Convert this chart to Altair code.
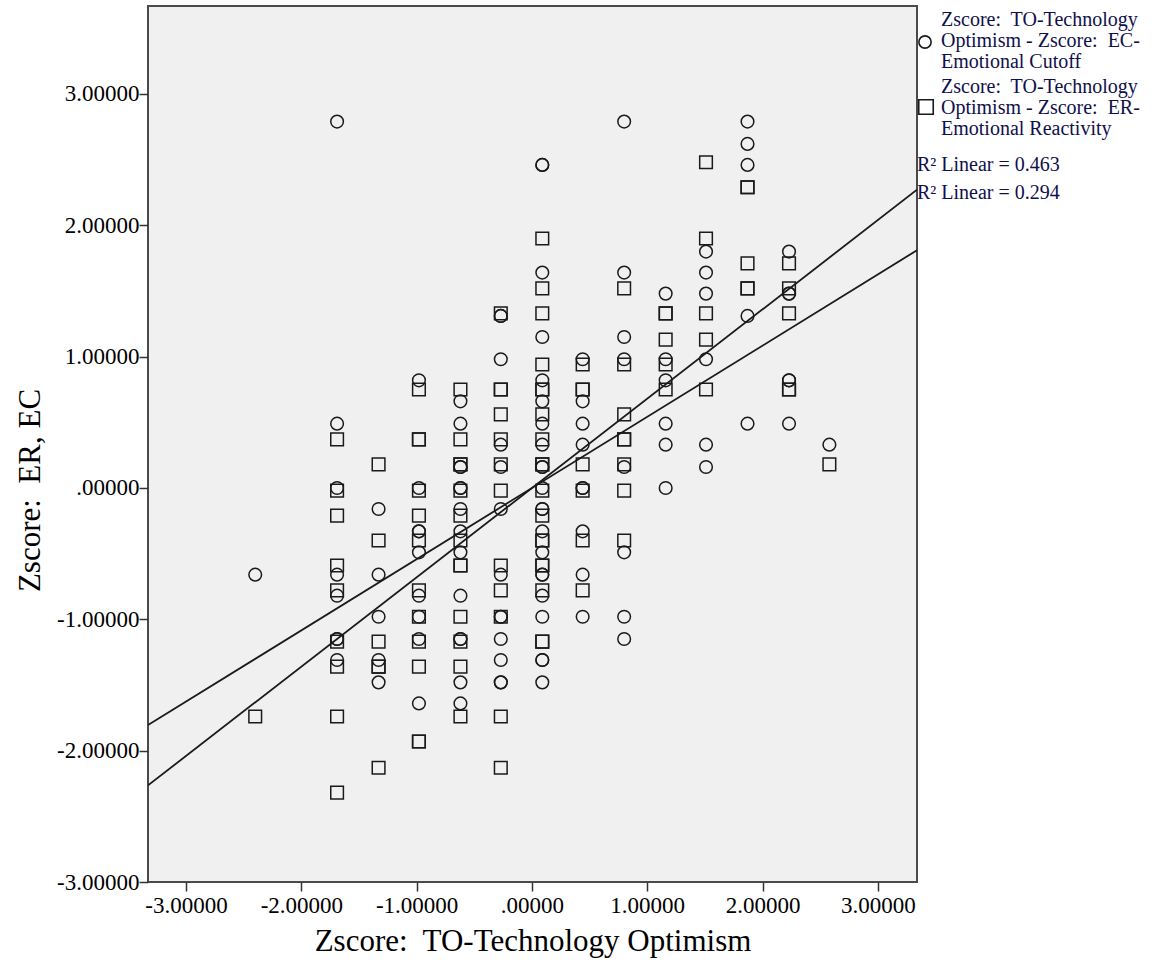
import altair as alt
import pandas as pd

# ---- data ----
series_names = [
    "Zscore:  TO-Technology Optimism - Zscore:  EC-Emotional Cutoff",
    "Zscore:  TO-Technology Optimism - Zscore:  ER-Emotional Reactivity",
]

# EC (circles)
ec_x = (
    [-2.40]
    + [-1.69] * 8
    + [-1.33] * 5
    + [-0.98] * 9
    + [-0.62] * 14
    + [-0.27] * 13
    + [0.09] * 22
    + [0.44] * 9
    + [0.80] * 8
    + [1.16] * 6
    + [1.51] * 6
    + [1.87] * 5
    + [2.23] * 6
    + [2.58]
)
ec_y = (
    [-0.66]
    + [2.79, 0.49, 0.00, -0.66, -0.82, -1.15, -1.15, -1.31]
    + [-0.16, -0.66, -0.98, -1.31, -1.48]
    + [0.82, 0.00, -0.33, -0.33, -0.49, -0.82, -0.98, -1.15, -1.64]
    + [0.66, 0.49, 0.16, 0.16, 0.00, 0.00, -0.16, -0.33, -0.49, -0.82, -1.15, -1.15, -1.48, -1.64]
    + [1.31, 1.31, 0.98, 0.33, 0.16, -0.16, -0.66, -0.98, -0.98, -1.15, -1.31, -1.48, -1.48]
    + [2.46, 2.46, 1.64, 1.15, 0.82, 0.66, 0.49, 0.33, 0.16, 0.00, -0.16, -0.16, -0.33,
       -0.49, -0.66, -0.66, -0.82, -0.98, -1.31, -1.31, -1.48, 0.16]
    + [0.98, 0.66, 0.49, 0.33, 0.00, 0.00, -0.33, -0.66, -0.98]
    + [2.79, 1.64, 1.15, 0.98, 0.16, -0.49, -0.98, -1.15]
    + [1.48, 0.98, 0.82, 0.49, 0.33, 0.00]
    + [1.80, 1.64, 1.48, 0.98, 0.33, 0.16]
    + [2.79, 2.62, 2.46, 1.31, 0.49]
    + [1.80, 1.48, 1.48, 0.82, 0.82, 0.49]
    + [0.33]
)

# ER (squares)
er_x = (
    [-2.40]
    + [-1.69] * 9
    + [-1.33] * 6
    + [-0.98] * 12
    + [-0.62] * 13
    + [-0.27] * 12
    + [0.09] * 19
    + [0.44] * 7
    + [0.80] * 8
    + [1.16] * 5
    + [1.51] * 5
    + [1.87] * 5
    + [2.23] * 5
    + [2.58]
)
er_y = (
    [-1.74]
    + [0.37, -0.02, -0.21, -0.59, -0.78, -1.17, -1.36, -1.74, -2.32]
    + [0.18, -0.40, -1.17, -1.36, -1.36, -2.13]
    + [0.75, 0.37, 0.37, -0.02, -0.21, -0.40, -0.78, -0.98, -1.17, -1.36, -1.93, -1.93]
    + [0.75, 0.37, 0.18, 0.18, -0.02, -0.21, -0.40, -0.59, -0.59, -0.98, -1.17, -1.36, -1.74]
    + [1.33, 0.75, 0.75, 0.56, 0.37, 0.18, -0.02, -0.59, -0.78, -0.98, -1.74, -2.13]
    + [1.90, 1.52, 1.33, 0.94, 0.75, 0.75, 0.56, 0.37, 0.18, 0.18, -0.02, -0.21, -0.40,
       -0.40, -0.59, -0.59, -0.78, -1.17, -1.17]
    + [0.94, 0.75, 0.75, 0.18, -0.02, -0.40, -0.78]
    + [1.52, 0.94, 0.56, 0.37, 0.37, 0.18, -0.02, -0.40]
    + [1.33, 1.33, 1.13, 0.94, 0.75]
    + [2.48, 1.90, 1.33, 1.13, 0.75]
    + [2.29, 2.29, 1.71, 1.52, 1.52]
    + [1.71, 1.52, 1.33, 0.75, 0.75]
    + [0.18]
)

fit_labels = ["R\u00b2 Linear = 0.463", "R\u00b2 Linear = 0.294"]
fit_slope = [0.680, 0.542]
fit_intercept = [0.0, 0.0]

x_domain = [-3.33, 3.34]
y_domain = [-3.0, 3.67]
tick_values = [-3, -2, -1, 0, 1, 2, 3]

NB = "\u00a0"
x_title = "Zscore:" + NB + " TO-Technology Optimism"
y_title = "Zscore:" + NB + " ER, EC"
legend_lines = [
    ["Zscore:" + NB + " TO-Technology", "Optimism - Zscore:" + NB + " EC-", "Emotional Cutoff"],
    ["Zscore:" + NB + " TO-Technology", "Optimism - Zscore:" + NB + " ER-", "Emotional Reactivity"],
]

# ---- tables ----
points = pd.concat([
    pd.DataFrame({"x": ec_x, "y": ec_y, "series": series_names[0]}),
    pd.DataFrame({"x": er_x, "y": er_y, "series": series_names[1]}),
], ignore_index=True)

fit_rows = []
for lab, b, a in zip(fit_labels, fit_slope, fit_intercept):
    for xv in x_domain:
        fit_rows.append({"fit": lab, "x": xv, "y": a + b * xv})
fits = pd.DataFrame(fit_rows)

FONT = "Liberation Serif"
INK = "#1a1a1a"
TXT = "#10104a"
label_expr = ("datum.value == 0 ? '.00000' : (datum.value < 0 ? '-' + format(-datum.value, '.5f') "
              ": format(datum.value, '.5f'))")

xs = alt.Scale(domain=x_domain, nice=False, zero=False)
ys = alt.Scale(domain=y_domain, nice=False, zero=False)

x_axis = alt.Axis(values=tick_values, labelExpr=label_expr, title=x_title,
                  titleY=59, titleBaseline="middle", labelPadding=3)
y_axis = alt.Axis(values=tick_values, labelExpr=label_expr, title=y_title,
                  titleX=-118, titleY=484, titleAngle=270, titleAlign="center",
                  titleBaseline="middle", labelPadding=0)

pts = alt.Chart(points).mark_point(
    filled=False, size=160, strokeWidth=1.5, color=INK, opacity=1
).encode(
    x=alt.X("x:Q", scale=xs, axis=x_axis),
    y=alt.Y("y:Q", scale=ys, axis=y_axis),
    shape=alt.Shape("series:N", scale=alt.Scale(domain=series_names, range=["circle", "square"]), legend=None),
)

lines = alt.Chart(fits).mark_line(color=INK, strokeWidth=1.8, clip=True).encode(
    x=alt.X("x:Q", scale=xs),
    y=alt.Y("y:Q", scale=ys),
    detail="fit:N",
)

# ---- legend (drawn to the right of the plot) ----
one = pd.DataFrame({"s": [0]})
leg_sym_circle = alt.Chart(one).mark_point(
    shape="circle", filled=False, size=150, strokeWidth=1.6, color=INK, opacity=1
).encode(x=alt.value(777), y=alt.value(36))
leg_sym_square = alt.Chart(one).mark_point(
    shape="square", filled=False, size=210, strokeWidth=1.6, color=INK, opacity=1
).encode(x=alt.value(778), y=alt.value(101))

leg_txt1 = alt.Chart(one).mark_text(
    align="left", baseline="middle", font=FONT, fontSize=20, lineHeight=21, color=TXT
).encode(x=alt.value(793), y=alt.value(14), text=alt.value(legend_lines[0]))
leg_txt2 = alt.Chart(one).mark_text(
    align="left", baseline="middle", font=FONT, fontSize=20, lineHeight=21, color=TXT
).encode(x=alt.value(793), y=alt.value(80.5), text=alt.value(legend_lines[1]))
leg_r1 = alt.Chart(one).mark_text(
    align="left", baseline="middle", font=FONT, fontSize=20, color=TXT
).encode(x=alt.value(769), y=alt.value(159), text=alt.value(fit_labels[0]))
leg_r2 = alt.Chart(one).mark_text(
    align="left", baseline="middle", font=FONT, fontSize=20, color=TXT
).encode(x=alt.value(769), y=alt.value(187), text=alt.value(fit_labels[1]))

chart = alt.layer(
    pts, lines, leg_sym_circle, leg_sym_square, leg_txt1, leg_txt2, leg_r1, leg_r2
).properties(
    width=769, height=876,
    autosize=alt.AutoSizeParams(type="none"),
    padding={"left": 148, "top": 6, "right": 249, "bottom": 90},
    background="white",
).configure_view(
    fill="#f0f0f0", stroke="#4a4a4a", strokeWidth=2
).configure_axis(
    domain=False, grid=False, ticks=True, tickColor="#333333", tickWidth=1.5, tickSize=9,
    labelFont=FONT, labelFontSize=23, labelColor="#000000",
    titleFont=FONT, titleFontSize=31, titleFontWeight="normal", titleColor="#000000",
)

chart.save("out.html", embed_options={"renderer": "svg", "actions": False})
